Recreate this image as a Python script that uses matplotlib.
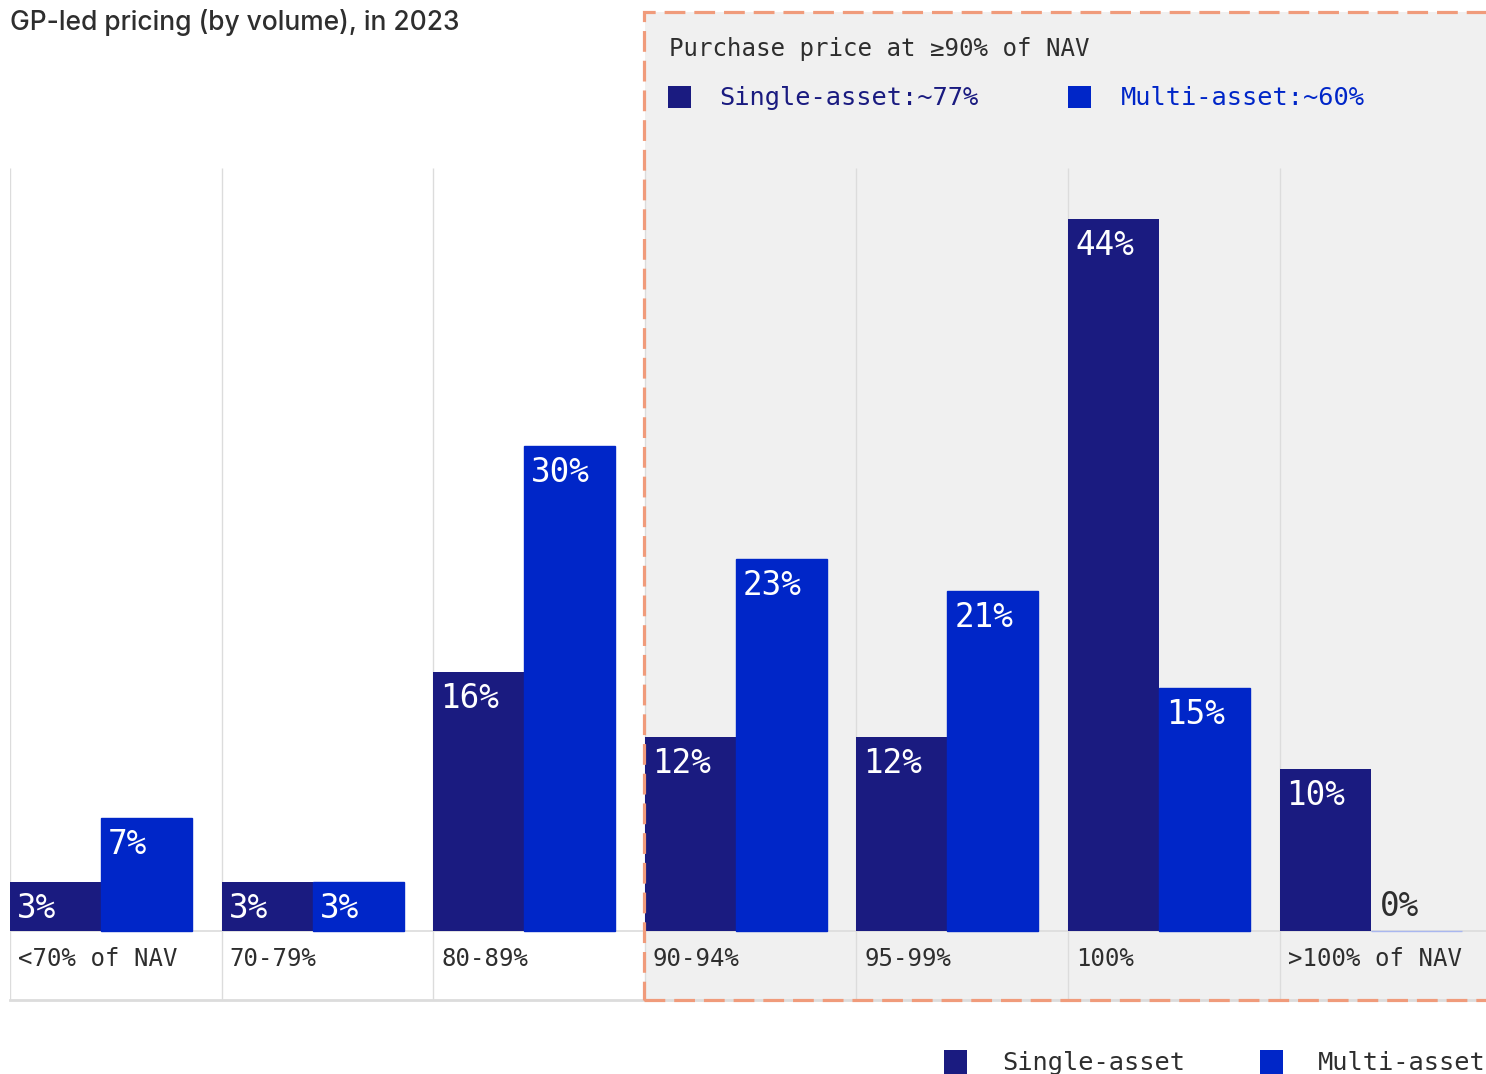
import matplotlib
matplotlib.use("Agg")
import matplotlib.pyplot as plt
from matplotlib.patches import Rectangle

# ---------------- data ----------------
categories = ["<70% of NAV", "70-79%", "80-89%", "90-94%", "95-99%", "100%", ">100% of NAV"]
single_asset = [3, 3, 16, 12, 12, 44, 10]
multi_asset = [7, 3, 30, 23, 21, 15, 0]
title = "GP-led pricing (by volume), in 2023"
box_title = "Purchase price at ≥90% of NAV"
box_single = "Single-asset:~77%"
box_multi = "Multi-asset:~60%"
series_names = ["Single-asset", "Multi-asset"]

# ---------------- style ----------------
W, H = 1486, 1074
DARK = "#1a1b80"
BLUE = "#0026c8"
GREY_BG = "#f0f0f0"
GRID = "#dcdcdc"
ORANGE = "#f09b7b"
TXT = "#2e2e2e"
MONO = ["DejaVu Sans Mono"]
SANS = ["Inter", "DejaVu Sans"]

PX_PER_PCT = 16.18
COL_W = 211.6
BAR_W = 91 / COL_W

fig = plt.figure(figsize=(W / 100, H / 100), dpi=100)
fig.patch.set_facecolor("white")


def fx(x):
    return x / W


def fy(y):
    return 1 - y / H


# grey highlighted region + dashed border
fig.patches.append(Rectangle((fx(645), fy(1000)), fx(1500) - fx(645), fy(12) - fy(1000),
                             transform=fig.transFigure, facecolor=GREY_BG,
                             edgecolor="none", zorder=-5))
fig.patches.append(Rectangle((fx(644), fy(1000)), fx(1500) - fx(644), fy(12) - fy(1000),
                             transform=fig.transFigure, fill=False, edgecolor=ORANGE,
                             lw=2.3, linestyle=(0, (6.5, 2.8)), zorder=10))

# main axes (bars + label row)
top_px, base_px, bot_px = 168, 931, 1000
ax = fig.add_axes([fx(10), fy(bot_px), fx(1486) - fx(10), fy(top_px) - fy(bot_px)])
ax.set_facecolor("none")
ax.set_xlim(0, (1486 - 10) / COL_W)
ymin = -(bot_px - base_px) / PX_PER_PCT
ymax = (base_px - top_px) / PX_PER_PCT
ax.set_ylim(ymin, ymax)
ax.axis("off")

n = len(categories)
# column separators
ax.vlines(range(n), ymin, ymax, colors=GRID, lw=1, zorder=0)
ax.axhline(0, color=GRID, lw=1.2, zorder=0)
ax.axhline(ymin, color=GRID, lw=2, zorder=0, clip_on=False)

xs = list(range(n))
x_single = [i for i in xs]
x_multi = [i + BAR_W for i in xs]
ax.bar(x_single, single_asset, width=BAR_W, align="edge", color=DARK, zorder=2)
ax.bar(x_multi, multi_asset, width=BAR_W, align="edge", color=BLUE, zorder=2,
       edgecolor=[("#a9b7ef" if v == 0 else BLUE) for v in multi_asset], lw=1)

for xpos, vals in ((x_single, single_asset), (x_multi, multi_asset)):
    for x, v in zip(xpos, vals):
        if v == 0:
            ax.annotate(f"{v}%", (x, 0), xytext=(9, 8), textcoords="offset pixels",
                        ha="left", va="bottom", color=TXT, fontsize=23.5, family=MONO, zorder=3)
        else:
            ax.annotate(f"{v}%", (x, v), xytext=(7, -10), textcoords="offset pixels",
                        ha="left", va="top", color="white", fontsize=23.5, family=MONO, zorder=3)

for i, c in enumerate(categories):
    ax.text(i + 8 / COL_W, ymin / 2 * 0.8, c, ha="left", va="center",
            fontsize=17.3, family=MONO, color=TXT)

# title
fig.text(fx(10), fy(22), title, ha="left", va="center", fontsize=19,
         family=SANS, color=TXT, fontweight="medium")

# box annotation
fig.text(fx(669), fy(49), box_title, ha="left", va="center", fontsize=17.4,
         family=MONO, color=TXT)
for sx, tx, label, col in ((668, 719, box_single, DARK), (1068, 1121, box_multi, BLUE)):
    fig.patches.append(Rectangle((fx(sx), fy(108)), fx(23), fy(86) - fy(108),
                                 transform=fig.transFigure, facecolor=col, edgecolor="none"))
    fig.text(fx(tx), fy(98), label, ha="left", va="center", fontsize=18.3,
             family=MONO, color=col)

# bottom legend
for sx, tx, label, col in ((944, 1002, series_names[0], DARK), (1260, 1318, series_names[1], BLUE)):
    fig.patches.append(Rectangle((fx(sx), fy(1074)), fx(23), fy(1050) - fy(1074),
                                 transform=fig.transFigure, facecolor=col, edgecolor="none"))
    fig.text(fx(tx), fy(1063), label, ha="left", va="center", fontsize=18.3,
             family=MONO, color=TXT)

fig.savefig("out.png", dpi=100)
